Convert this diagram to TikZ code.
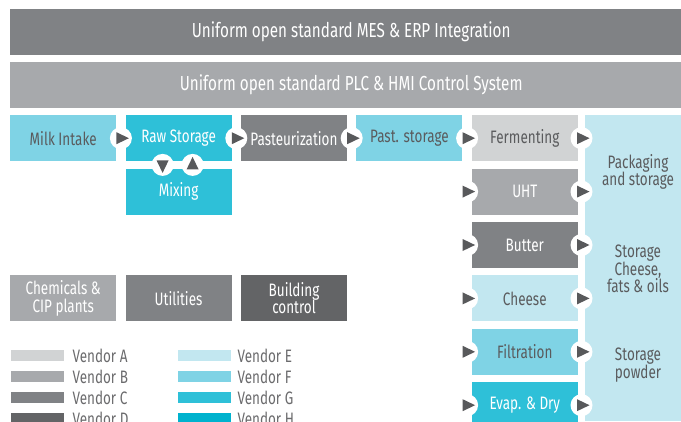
\documentclass[tikz,border=0pt]{standalone}
\usepackage{fontspec}
\setmainfont[FakeStretch=0.75]{Fira Sans}
\usetikzlibrary{positioning, calc}
\definecolor{xvendorA}{HTML}{D1D3D4}
\definecolor{xvendorB}{HTML}{A7A9AC}
\definecolor{xvendorC}{HTML}{808285}
\definecolor{xvendorD}{HTML}{636466}
\definecolor{xvendorE}{HTML}{C2E7F0}
\definecolor{xvendorF}{HTML}{7FD3E5}
\definecolor{xvendorG}{HTML}{2EC0D8}
\definecolor{xvendorH}{HTML}{00B2CE}
\definecolor{xtext}{HTML}{5A5B5D}
\definecolor{xarrow}{HTML}{58595B}
\tikzset{
	bar/.style={anchor=north west, minimum width=682pt, minimum height=46pt, inner sep=0pt,
		text=white, font=\fontsize{20.3}{22}\selectfont},
	stage/.style={anchor=north west, minimum width=106pt, minimum height=46pt, inner sep=0pt,
		align=center, text=white, font=\fontsize{18}{17.5}\selectfont},
	darktext/.style={text=xtext},
	swatch/.style={anchor=north west, minimum width=53pt, minimum height=11pt, inner sep=0pt},
	vendor/.style={anchor=west, inner sep=0pt, text=xtext!90!white, font=\fontsize{18}{20}\selectfont},
	pics/flow/.style={code={
		\fill[white] (0,0) circle (11pt);
		\fill[xarrow] (-4.5,-6) -- (8,0) -- (-4.5,6) -- cycle;
	}},
}
\begin{document}
\begin{tikzpicture}[x=1pt, y=-1pt]
		\clip (0,0) rectangle (681,421);

		% system layers
		\node[bar, fill=xvendorC] (mes) at (10,9) {Uniform open standard MES \& ERP Integration};
		\node[bar, fill=xvendorB] (plc) at (10,62) {Uniform open standard PLC \& HMI Control System};

		% main process line
		\node[stage, fill=xvendorF, darktext] (milk) at (10,115) {Milk Intake};
		\node[stage, fill=xvendorG, right=9pt of milk] (raw) {Raw Storage};
		\node[stage, fill=xvendorC, right=9pt of raw] (past) {Pasteurization};
		\node[stage, fill=xvendorF, darktext, right=9pt of past] (pstore) {Past. storage};
		\node[stage, fill=xvendorA, darktext, right=9pt of pstore] (ferm) {Fermenting};
		\node[stage, fill=xvendorG, below=7pt of raw] (mix) {Mixing};

		% product lines
		\node[stage, fill=xvendorB, below=7pt of ferm] (uht) {UHT};
		\node[stage, fill=xvendorC, below=7pt of uht] (butter) {Butter};
		\node[stage, fill=xvendorE, darktext, below=7pt of butter] (cheese) {Cheese};
		\node[stage, fill=xvendorF, darktext, below=7pt of cheese] (filt) {Filtration};
		\node[stage, fill=xvendorG, below=7pt of filt] (evap) {Evap. \& Dry};

		% storage column
		\node[anchor=north west, fill=xvendorE, minimum width=107pt, minimum height=306pt, inner sep=0pt] (pack) at (585,115) {};
		\node[stage, darktext, anchor=center] (packtxt) at (638,172) {Packaging\\and storage};
		\node[stage, darktext, anchor=center] (fattxt) at (638,269) {Storage\\Cheese,\\fats \& oils};
		\node[stage, darktext, anchor=center] (powtxt) at (638,365) {Storage\\powder};

		% plant services
		\node[stage, fill=xvendorB] (cip) at (10,275) {Chemicals \&\\CIP plants};
		\node[stage, fill=xvendorC, right=9pt of cip] (util) {Utilities};
		\node[stage, fill=xvendorD, right=9pt of util] (bms) {Building\\control};

		% flow arrows
		\pic at ($(milk.east)!0.5!(raw.west)$) {flow};
		\pic at ($(raw.east)!0.5!(past.west)$) {flow};
		\pic at ($(past.east)!0.5!(pstore.west)$) {flow};
		\pic at ($(pstore.east)!0.5!(ferm.west)$) {flow};
		\pic at ($(ferm.east)!0.5!(ferm.east -| pack.west)$) {flow};
		\pic[rotate=-90] at ($(raw.south)!0.5!(mix.north)+(-16,0)$) {flow};
		\pic[rotate=90] at ($(raw.south)!0.5!(mix.north)+(14,0)$) {flow};
		\foreach \p in {uht, butter, cheese, filt, evap}{
			\pic at ($(\p.west)+(-4.5,0)$) {flow};
			\pic at ($(\p.east)!0.5!(\p.east -| pack.west)$) {flow};
		}

		% legend
		\foreach \v [count=\i from 0] in {A,B,C,D}{
			\node[swatch, fill=xvendor\v] (sw\v) at (11,350+21*\i) {};
			\node[vendor, right=8pt of sw\v] (lb\v) {Vendor \v};
		}
		\foreach \v [count=\i from 0] in {E,F,G,H}{
			\node[swatch, fill=xvendor\v] (sw\v) at (178,350+21*\i) {};
			\node[vendor, right=6pt of sw\v] (lb\v) {Vendor \v};
		}
	\end{tikzpicture}
\end{document}
